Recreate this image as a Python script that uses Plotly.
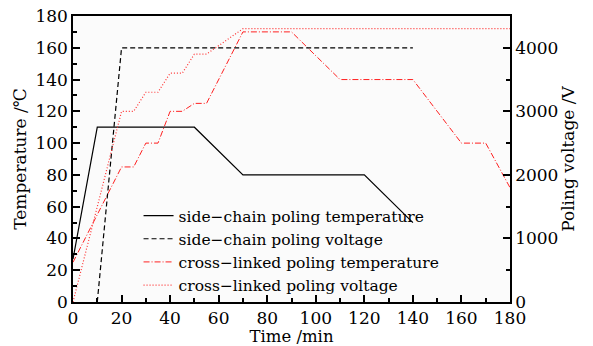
import plotly.graph_objects as go

# side-chain poling temperature (deg C)
sc_temp_t = [0, 10, 50, 70, 120, 140]
sc_temp_v = [27, 110, 110, 80, 80, 50]
# side-chain poling voltage (V)
sc_volt_t = [10, 20, 140]
sc_volt_v = [0, 4000, 4000]
# cross-linked poling temperature (deg C)
cl_temp_t = [0, 20, 25, 30, 35, 40, 45, 50, 55, 70, 90, 110, 140, 160, 170, 180]
cl_temp_v = [25, 85, 85, 100, 100, 120, 120, 125, 125, 170, 170, 140, 140, 100, 100, 72]
# cross-linked poling voltage (V)
cl_volt_t = [0, 20, 25, 30, 35, 40, 45, 50, 55, 70, 180]
cl_volt_v = [0, 3000, 3000, 3300, 3300, 3600, 3600, 3900, 3900, 4300, 4300]

FONT = "DejaVu Serif"
fig = go.Figure()
fig.add_trace(go.Scatter(x=sc_temp_t, y=sc_temp_v, mode="lines",
                         name="side\u2212chain poling temperature",
                         line=dict(color="black", width=1.2)))
fig.add_trace(go.Scatter(x=sc_volt_t, y=sc_volt_v, mode="lines", yaxis="y2",
                         name="side\u2212chain poling voltage",
                         line=dict(color="black", width=1.2, dash="5px,3px")))
fig.add_trace(go.Scatter(x=cl_temp_t, y=cl_temp_v, mode="lines",
                         name="cross\u2212linked poling temperature",
                         line=dict(color="#ff2020", width=1, dash="6px,2px,1px,2px")))
fig.add_trace(go.Scatter(x=cl_volt_t, y=cl_volt_v, mode="lines", yaxis="y2",
                         name="cross\u2212linked poling voltage",
                         line=dict(color="#ff3030", width=1.2, dash="1px,2px")))

axis_common = dict(showline=True, linecolor="black", linewidth=1.5, ticks="inside",
                   ticklen=7, tickwidth=1.5, tickcolor="black", showgrid=False,
                   zeroline=False, automargin=False,
                   tickfont=dict(family=FONT, size=17, color="black"))

fig.update_layout(
    width=593, height=346,
    margin=dict(l=73, r=83, t=16, b=44),
    paper_bgcolor="white", plot_bgcolor="#fbfbfb",
    font=dict(family=FONT, color="black"),
    showlegend=True,
    legend=dict(x=0.15, y=0.36, xanchor="left", yanchor="top",
                bgcolor="rgba(0,0,0,0)", font=dict(family=FONT, size=15.5, color="black"),
                tracegroupgap=0),
    xaxis=dict(range=[0, 180], dtick=20, mirror=True,
               minor=dict(ticks="inside", ticklen=4, dtick=10, tickcolor="black"),
               title=dict(text="Time /min", font=dict(family=FONT, size=16.5), standoff=3),
               **axis_common),
    yaxis=dict(range=[0, 180], dtick=20,
               minor=dict(ticks="inside", ticklen=4, dtick=10, tickcolor="black"),
               title=dict(text="Temperature /\u2103", font=dict(family=FONT, size=17), standoff=4),
               **axis_common),
    yaxis2=dict(range=[0, 4500], dtick=1000, overlaying="y", side="right",
                minor=dict(ticks="inside", ticklen=4, dtick=500, tickcolor="black"),
                title=dict(text="Poling voltage /V", font=dict(family=FONT, size=17), standoff=4),
                **axis_common),
)
fig.write_html("out.html")
